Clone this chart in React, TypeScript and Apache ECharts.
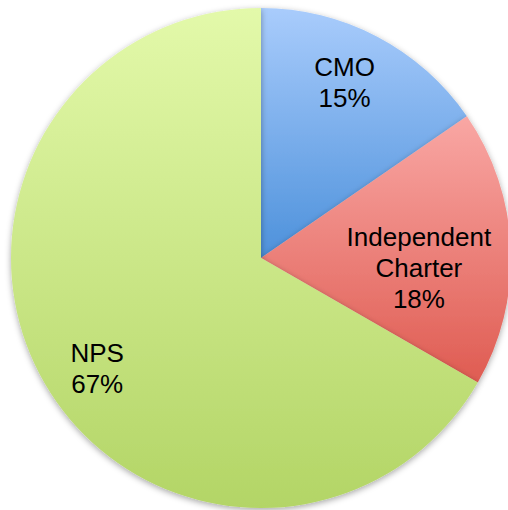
import React, { useEffect, useRef } from "react";
import * as echarts from "echarts";

const categories = ["CMO", "Independent Charter", "NPS"];
const values = [15.4, 17.9, 66.7];
const topColors = ["#a9ccfc", "#f9a7a4", "#e3f9aa"];
const bottomColors = ["#4d91db", "#df5c52", "#b3d566"];
const labelOffsets: [number, number][] = [
  [24, -62],
  [30, 15],
  [-53, 46],
];

export default function App() {
  const ref = useRef<HTMLDivElement>(null);
  useEffect(() => {
    if (!ref.current) return;
    const chart = echarts.init(ref.current, null, { renderer: "svg" });
    chart.setOption({
      animation: false,
      backgroundColor: "#ffffff",
      series: [
        {
          type: "pie",
          center: [261, 258],
          radius: 250,
          startAngle: 90,
          clockwise: true,
          avoidLabelOverlap: false,
          label: {
            show: true,
            position: "inside",
            color: "#000000",
            fontFamily: "Liberation Sans, Arial, sans-serif",
            fontSize: 26,
            lineHeight: 31,
            formatter: (p: any) =>
              p.name.replace(" ", "\n") + "\n" + Math.round(p.value) + "%",
          },
          labelLine: { show: false },
          emphasis: { disabled: true },
          data: categories.map((name, i) => ({
            name,
            value: values[i],
            label: { offset: labelOffsets[i] },
            itemStyle: {
              color: new echarts.graphic.LinearGradient(0, 0, 0, 1, [
                { offset: 0, color: topColors[i] },
                { offset: 1, color: bottomColors[i] },
              ]),
              shadowBlur: 6,
              shadowOffsetY: 2,
              shadowColor: "rgba(0,0,0,0.35)",
              borderWidth: 0,
            },
          })),
        },
      ],
    });
    return () => chart.dispose();
  }, []);
  return (
    <div
      ref={ref}
      style={{ position: "fixed", left: 0, top: 0, width: 508, height: 510 }}
    />
  );
}
